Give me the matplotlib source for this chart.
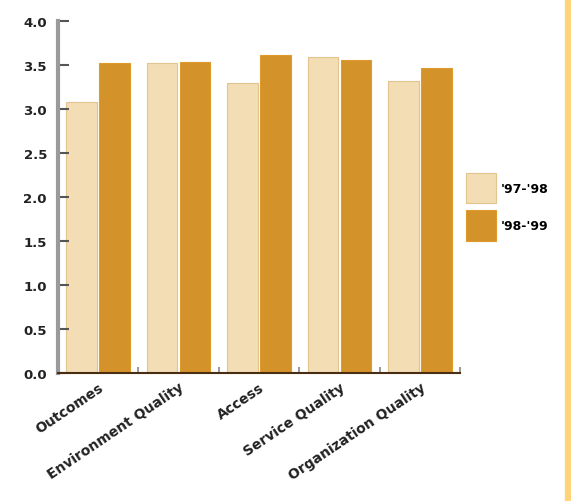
import numpy as np
import matplotlib
matplotlib.use('Agg')
import matplotlib.pyplot as plt
from matplotlib.patches import Rectangle

categories = ['Outcomes', 'Environment Quality', 'Access', 'Service Quality', 'Organization Quality']
v_9798 = [3.08, 3.52, 3.30, 3.59, 3.32]
v_9899 = [3.52, 3.54, 3.61, 3.56, 3.47]
series_names = ["'97-'98", "'98-'99"]

light = '#F2DDB4'
dark = '#D4922B'

fig = plt.figure(figsize=(5.71, 5.02), dpi=100)
ax = fig.add_axes([0.1016, 0.255, 0.7044, 0.701])

x = np.arange(len(categories))
w = 0.38
b1 = ax.bar(x - 0.205, v_9798, w, color=light, edgecolor='#E3C48E', linewidth=0.8, label=series_names[0])
b2 = ax.bar(x + 0.205, v_9899, w, color=dark, edgecolor='#DE9A2A', linewidth=0.8, label=series_names[1])

ax.set_xlim(-0.5, len(categories) - 0.5)
ax.set_ylim(0, 4.0)
ax.set_yticks(np.arange(0, 4.01, 0.5))
ax.set_yticklabels(['%.1f' % v for v in np.arange(0, 4.01, 0.5)], fontsize=9.5, fontweight='heavy', color='#222222')

# group separators on the x axis
ax.set_xticks(np.arange(0.5, len(categories), 1.0))
ax.set_xticklabels([])
ax.tick_params(axis='x', direction='in', length=4, width=1.2, color='#888888')
ax.tick_params(axis='y', direction='in', length=8, width=1.5, color='#555555', pad=8)

ax.set_xticks(x, minor=True)
ax.set_xticklabels(categories, minor=True, rotation=34, ha='right', rotation_mode='anchor',
                   fontsize=10, fontweight='bold', color='#222222')
ax.tick_params(axis='x', which='minor', length=0, pad=5)

for s in ['top', 'right']:
    ax.spines[s].set_visible(False)
ax.spines['left'].set_color('#9A9A9A')
ax.spines['left'].set_linewidth(3)
ax.spines['bottom'].set_color('#4A2E12')
ax.spines['bottom'].set_linewidth(1.5)

leg = fig.legend(handles=[b1, b2], loc='upper left', bbox_to_anchor=(0.807, 0.664),
                 frameon=False, prop={'weight': 'bold', 'size': 9},
                 handlelength=2.4, handleheight=3.4, handletextpad=0.4, labelspacing=0.55,
                 borderaxespad=0)

# yellow border strip at right
fig.add_artist(Rectangle((0.989, 0), 0.011, 1, transform=fig.transFigure, color='#FFD37A', zorder=0))

fig.savefig('out.png', dpi=100)
